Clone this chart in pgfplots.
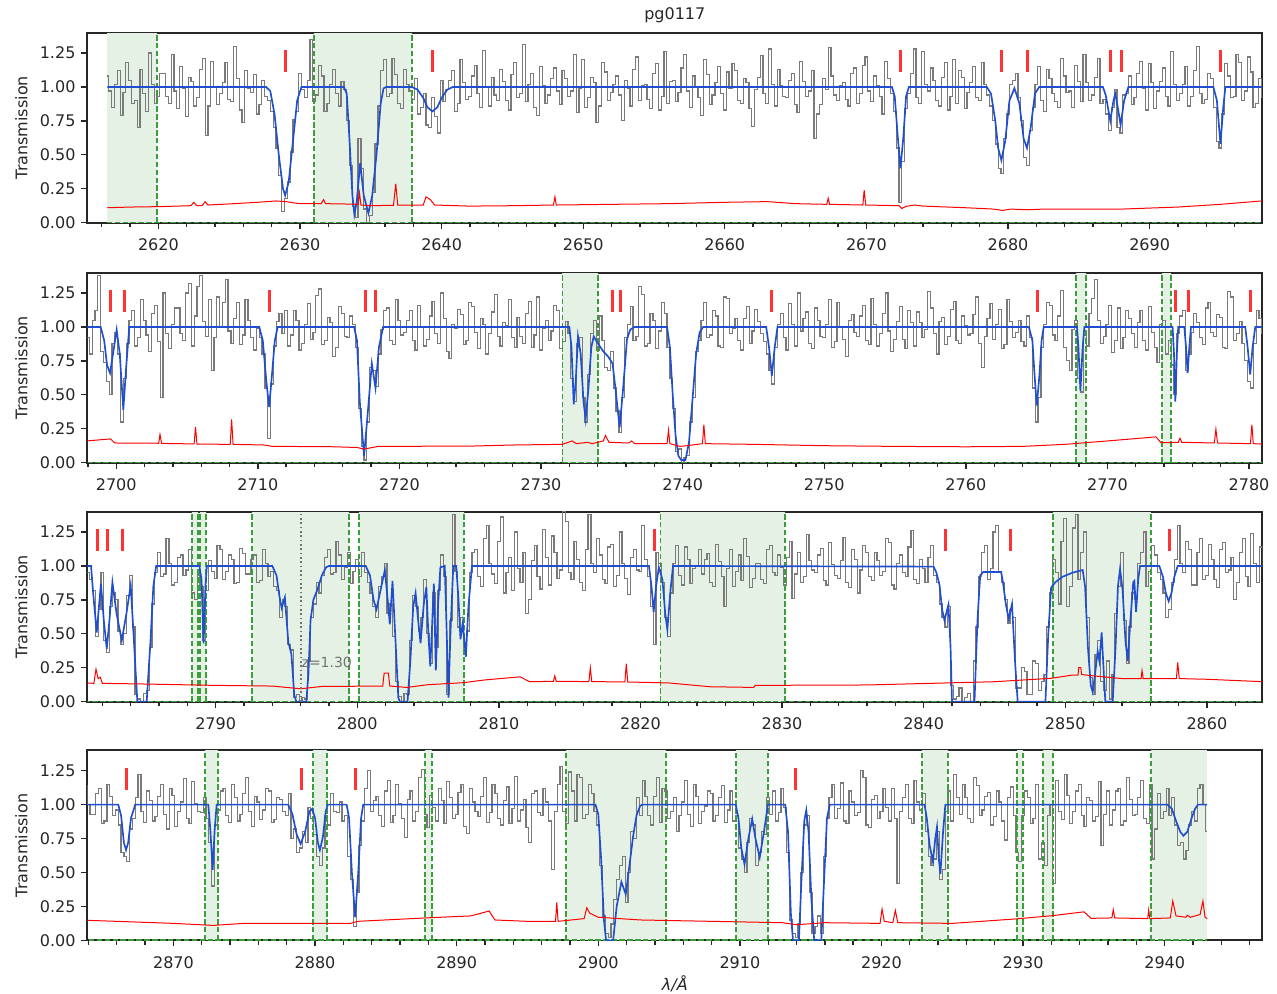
\documentclass[border=0pt]{standalone}
\usepackage{fontspec}
\setmainfont{DejaVu Sans}
\usepackage{pgfplots}
\usepackage{pgfplotstable}
\pgfplotsset{compat=1.18}
\definecolor{shadeg}{rgb}{0.898,0.945,0.898}
\definecolor{gline}{HTML}{3A9E3A}
\definecolor{model}{HTML}{1F4FD0}
\definecolor{spec}{HTML}{7A7A7A}
\definecolor{err}{HTML}{FF0000}
\definecolor{tickred}{HTML}{FF3333}
\definecolor{spine}{HTML}{262626}

\pgfplotstableread[row sep=\\, header=false]{
1.08\\0.97\\0.85\\1.02\\1.12\\0.79\\0.96\\1.18\\1.05\\0.88\\0.90\\0.70\\1.13\\0.95\\0.82\\1.25\\1.02\\0.88\\0.93\\1.10\\
1.10\\0.93\\0.88\\1.24\\0.97\\0.84\\1.15\\0.99\\0.78\\1.07\\1.04\\0.86\\0.92\\1.13\\1.21\\0.64\\0.86\\1.19\\1.00\\0.87\\
0.95\\1.03\\1.18\\0.91\\0.89\\1.30\\1.06\\0.83\\0.74\\1.12\\0.99\\0.96\\1.09\\0.80\\0.87\\1.05\\0.93\\0.90\\0.82\\0.70\\
0.55\\0.35\\0.08\\0.18\\0.30\\0.52\\0.76\\0.82\\1.10\\0.98\\0.92\\1.05\\1.35\\0.89\\0.94\\1.16\\1.08\\0.82\\0.88\\1.02\\
1.13\\0.95\\0.86\\1.04\\0.98\\0.75\\0.42\\0.12\\0.04\\0.62\\0.40\\0.10\\0.00\\0.05\\0.22\\0.58\\0.86\\1.12\\1.20\\0.93\\
0.95\\1.21\\1.09\\0.88\\0.84\\1.13\\1.02\\0.97\\0.91\\1.06\\0.80\\0.85\\0.95\\0.72\\0.70\\0.92\\0.78\\0.66\\1.05\\0.89\\
0.98\\1.05\\1.12\\0.82\\0.88\\1.20\\1.03\\0.91\\0.93\\1.08\\1.16\\0.95\\0.85\\1.27\\1.00\\0.86\\1.07\\0.94\\0.90\\1.13\\
1.04\\0.90\\0.83\\1.09\\1.18\\0.92\\0.95\\1.31\\0.89\\1.02\\1.10\\0.85\\0.79\\1.15\\1.01\\0.88\\0.94\\1.06\\1.14\\0.97\\
0.87\\1.12\\1.06\\0.93\\0.97\\1.24\\0.81\\0.99\\1.20\\0.85\\0.92\\1.07\\1.03\\0.74\\0.86\\1.18\\1.11\\0.90\\0.96\\1.02\\
1.08\\0.94\\0.75\\1.05\\0.99\\0.86\\1.13\\1.22\\0.90\\1.01\\1.02\\0.91\\0.84\\1.10\\1.17\\0.83\\0.93\\1.26\\0.88\\1.04\\
1.05\\0.89\\0.96\\1.14\\1.24\\0.97\\0.85\\1.08\\1.00\\0.92\\0.79\\1.20\\1.09\\0.87\\0.94\\1.03\\1.15\\0.95\\0.83\\1.11\\
0.99\\1.17\\1.12\\0.90\\0.88\\1.06\\1.03\\0.84\\0.71\\0.98\\1.07\\1.23\\0.95\\0.88\\1.28\\1.02\\0.86\\1.13\\1.01\\0.93\\
0.92\\1.05\\1.10\\0.87\\0.81\\1.19\\1.04\\0.93\\0.97\\1.12\\0.62\\0.80\\0.87\\1.06\\0.98\\1.29\\1.08\\0.94\\0.90\\1.01\\
1.03\\0.91\\0.86\\1.10\\1.14\\0.88\\0.95\\1.16\\1.22\\0.97\\0.89\\1.08\\1.01\\0.93\\0.80\\1.19\\1.06\\0.95\\0.82\\0.55\\
0.15\\0.45\\0.84\\0.95\\1.10\\1.28\\0.92\\0.88\\1.26\\1.02\\0.97\\1.14\\1.05\\0.90\\0.86\\1.07\\1.18\\0.83\\0.93\\1.20\\
0.88\\1.12\\1.07\\0.84\\0.96\\1.03\\1.15\\0.92\\0.90\\1.18\\1.02\\0.94\\0.86\\0.75\\0.58\\0.40\\0.36\\0.62\\0.80\\1.02\\
1.05\\1.10\\0.92\\0.75\\0.48\\0.42\\0.68\\0.85\\1.02\\1.15\\0.90\\0.82\\1.13\\1.06\\0.95\\0.89\\0.85\\1.21\\1.08\\0.96\\
0.97\\0.85\\1.16\\1.04\\0.89\\1.24\\1.03\\0.90\\0.94\\1.07\\1.21\\0.88\\0.91\\0.80\\0.68\\0.85\\0.98\\0.70\\0.66\\0.94\\
0.95\\1.08\\0.87\\0.92\\1.10\\1.19\\0.99\\0.83\\1.17\\1.03\\0.84\\0.97\\1.04\\1.14\\0.93\\0.86\\1.26\\1.02\\0.90\\0.95\\
1.02\\1.15\\0.86\\0.93\\1.12\\1.30\\0.95\\0.88\\0.91\\1.10\\1.06\\0.85\\0.60\\0.55\\0.80\\1.17\\1.08\\0.92\\0.93\\1.24\\
1.18\\0.90\\0.97\\1.22\\1.11\\0.85\\0.88\\1.06\\0.92\\0.80\\1.05\\1.12\\1.38\\0.82\\0.74\\0.60\\0.50\\0.88\\0.96\\0.80\\
0.30\\0.62\\0.88\\1.05\\1.12\\0.86\\0.92\\1.20\\1.05\\0.94\\0.82\\1.10\\1.16\\0.89\\0.48\\1.25\\0.95\\0.84\\1.02\\1.14\\
1.14\\0.95\\0.90\\1.25\\1.32\\0.86\\1.08\\1.30\\1.38\\1.04\\0.93\\1.20\\0.68\\0.92\\1.22\\1.00\\1.18\\1.35\\0.97\\0.88\\
1.06\\1.18\\0.87\\0.94\\1.20\\1.05\\0.92\\0.83\\0.99\\0.92\\0.80\\0.55\\0.18\\0.58\\0.86\\1.04\\1.10\\0.95\\1.12\\0.86\\
0.94\\1.12\\1.05\\0.83\\0.88\\1.02\\1.17\\0.91\\0.96\\1.23\\1.28\\0.87\\0.90\\1.07\\1.03\\0.78\\0.85\\1.15\\1.10\\0.93\\
0.92\\1.08\\1.02\\0.85\\0.40\\0.12\\0.02\\0.30\\0.70\\0.68\\0.56\\0.80\\0.98\\1.12\\1.14\\0.90\\0.87\\1.20\\1.05\\0.94\\
0.96\\1.05\\1.12\\0.90\\0.83\\1.16\\1.00\\0.86\\0.91\\1.08\\1.19\\0.95\\0.88\\1.25\\1.06\\0.82\\0.77\\1.02\\0.99\\1.13\\
1.09\\0.87\\0.90\\1.18\\1.15\\0.96\\0.84\\1.06\\1.02\\0.80\\0.95\\1.11\\1.24\\0.93\\0.86\\1.03\\1.01\\1.20\\0.92\\0.85\\
1.07\\0.93\\0.88\\1.10\\1.19\\0.85\\0.94\\1.22\\0.83\\0.99\\1.05\\0.90\\0.97\\1.16\\1.12\\0.84\\0.89\\1.04\\0.95\\0.62\\
0.45\\0.88\\0.92\\0.48\\0.30\\0.65\\0.95\\1.05\\0.83\\1.08\\0.90\\0.70\\0.68\\0.82\\0.55\\0.38\\0.22\\0.48\\0.92\\1.02\\
1.15\\0.90\\0.93\\1.30\\1.24\\0.86\\0.88\\1.10\\1.05\\0.84\\0.97\\1.18\\1.10\\0.85\\0.62\\0.40\\0.08\\0.10\\0.00\\0.04\\
0.05\\0.30\\0.48\\0.82\\0.90\\1.05\\1.18\\0.92\\0.94\\1.12\\1.08\\0.86\\0.85\\1.22\\1.21\\0.95\\0.99\\1.06\\0.90\\0.83\\
1.06\\1.15\\0.88\\0.97\\1.13\\1.04\\0.95\\0.89\\0.80\\0.68\\0.58\\0.85\\1.02\\1.10\\0.92\\0.83\\1.17\\1.02\\0.86\\1.25\\
0.97\\1.06\\1.11\\0.88\\0.84\\1.14\\1.05\\0.93\\0.92\\1.02\\1.20\\0.85\\0.89\\1.18\\1.00\\0.91\\0.78\\1.05\\1.09\\0.96\\
0.93\\1.08\\1.16\\0.90\\0.87\\1.21\\1.02\\0.86\\0.95\\1.10\\1.25\\0.97\\0.82\\0.91\\1.04\\1.15\\0.91\\0.84\\1.12\\1.03\\
0.86\\1.11\\1.03\\0.92\\0.98\\1.26\\1.14\\0.95\\0.80\\1.04\\1.07\\0.87\\0.93\\1.13\\1.19\\0.90\\0.88\\1.08\\1.01\\0.94\\
0.95\\1.09\\1.22\\0.88\\0.70\\0.93\\1.06\\1.17\\0.91\\1.02\\1.13\\0.84\\0.87\\1.20\\1.04\\0.92\\0.96\\1.05\\0.89\\0.86\\
1.08\\0.92\\0.55\\0.30\\0.48\\0.85\\1.02\\1.18\\1.16\\0.94\\0.90\\1.08\\1.27\\0.85\\0.75\\0.68\\0.98\\1.05\\0.62\\0.52\\
0.94\\0.86\\1.10\\1.21\\1.35\\1.05\\0.88\\0.93\\1.02\\1.16\\0.81\\0.90\\1.14\\0.84\\0.92\\1.12\\1.06\\0.95\\0.85\\1.03\\
1.12\\0.90\\0.83\\1.15\\0.96\\0.85\\0.74\\1.02\\1.05\\0.80\\0.90\\0.72\\0.50\\0.95\\1.08\\1.12\\0.68\\0.80\\0.96\\1.10\\
1.03\\0.92\\0.87\\1.14\\1.18\\0.96\\0.93\\1.09\\1.07\\0.85\\0.84\\1.26\\1.22\\0.90\\0.95\\1.04\\0.88\\0.75\\0.60\\0.55\\
0.88\\1.12\\1.06\\0.95\\0.90\\0.82\\0.48\\0.68\\0.95\\0.45\\0.36\\0.70\\0.80\\0.75\\0.52\\0.42\\0.50\\0.78\\0.93\\0.55\\
0.05\\0.02\\0.00\\0.06\\0.08\\0.40\\0.72\\0.95\\1.10\\0.92\\0.94\\1.20\\1.02\\0.86\\0.88\\1.06\\1.08\\0.93\\0.97\\1.12\\
0.80\\0.75\\0.93\\0.85\\0.45\\0.82\\1.04\\0.96\\0.91\\1.15\\1.12\\0.90\\0.96\\1.08\\1.05\\0.87\\0.88\\1.13\\1.09\\0.94\\
0.94\\1.05\\1.08\\0.88\\0.89\\1.12\\1.02\\0.92\\0.96\\0.85\\0.82\\0.62\\0.75\\0.70\\0.42\\0.38\\0.03\\0.05\\0.00\\0.03\\
0.02\\0.30\\0.62\\0.72\\0.88\\0.80\\0.93\\1.06\\1.12\\0.94\\0.95\\1.18\\1.08\\0.90\\0.99\\1.10\\0.87\\0.96\\1.05\\0.92\\
1.10\\0.95\\0.88\\0.80\\0.70\\0.62\\0.85\\0.92\\1.02\\0.65\\0.72\\0.48\\0.15\\0.04\\0.00\\0.06\\0.05\\0.45\\0.78\\0.70\\
0.52\\0.62\\0.90\\0.50\\0.28\\0.80\\0.40\\0.82\\1.08\\0.92\\0.05\\0.60\\1.38\\0.96\\0.55\\0.62\\0.35\\0.52\\0.95\\1.10\\
1.12\\0.92\\0.85\\1.20\\1.30\\1.02\\0.94\\0.87\\1.18\\1.36\\0.80\\0.95\\1.06\\0.82\\1.25\\0.98\\0.88\\1.10\\0.65\\0.75\\
1.04\\1.15\\0.92\\0.83\\1.27\\1.06\\0.86\\1.22\\1.10\\0.91\\0.97\\1.40\\1.33\\0.95\\0.90\\1.18\\1.05\\0.88\\0.82\\1.12\\
1.38\\1.02\\0.95\\1.20\\1.08\\0.90\\0.87\\1.14\\1.16\\0.85\\0.93\\1.25\\1.02\\0.91\\0.79\\1.06\\1.12\\0.97\\0.96\\1.30\\
1.05\\0.92\\0.70\\0.42\\1.10\\1.02\\0.88\\0.62\\0.48\\0.80\\1.02\\1.15\\0.93\\0.86\\1.14\\1.05\\0.87\\0.98\\1.00\\1.12\\
0.94\\1.05\\1.09\\0.88\\0.85\\1.16\\1.03\\0.92\\0.70\\0.98\\1.12\\0.85\\0.96\\1.08\\0.89\\1.20\\1.07\\0.84\\0.91\\1.02\\
1.02\\0.90\\0.87\\1.12\\1.15\\0.95\\0.93\\1.08\\0.99\\0.86\\1.06\\1.18\\0.76\\0.94\\1.10\\0.88\\0.92\\1.23\\1.04\\0.97\\
0.95\\1.08\\1.13\\0.89\\0.86\\1.17\\1.01\\0.93\\0.91\\1.04\\1.21\\0.88\\0.84\\1.12\\1.05\\0.80\\0.97\\1.15\\1.10\\0.92\\
0.89\\1.10\\1.04\\0.93\\0.96\\1.20\\1.17\\0.86\\0.83\\1.02\\1.08\\0.95\\0.92\\1.14\\1.26\\0.90\\0.87\\1.05\\0.98\\0.88\\
1.06\\1.15\\0.93\\0.88\\0.72\\0.62\\0.55\\0.70\\0.12\\0.02\\0.04\\0.10\\0.00\\0.03\\0.06\\0.00\\0.30\\0.55\\0.92\\1.10\\
1.15\\0.90\\0.98\\1.25\\1.30\\0.95\\0.88\\0.75\\0.58\\0.68\\0.62\\0.10\\0.10\\0.25\\0.22\\0.05\\0.05\\0.30\\0.28\\0.08\\
0.15\\0.20\\0.55\\0.80\\1.05\\0.95\\0.72\\1.18\\1.35\\0.70\\0.85\\1.28\\1.38\\0.90\\1.10\\1.25\\0.62\\0.18\\0.05\\0.35\\
0.45\\0.15\\0.08\\0.30\\0.02\\0.20\\0.65\\0.85\\1.10\\0.60\\0.28\\0.55\\0.80\\0.75\\1.02\\1.10\\1.25\\0.85\\0.96\\1.15\\
1.08\\0.95\\0.90\\0.80\\0.62\\0.68\\0.88\\1.05\\1.30\\1.02\\0.95\\1.18\\1.12\\0.86\\0.86\\1.10\\1.20\\0.90\\0.93\\1.16\\
1.05\\0.90\\0.84\\1.12\\1.17\\0.95\\0.97\\1.06\\0.75\\0.88\\1.10\\1.20\\0.92\\0.85\\1.24\\1.02\\0.88\\1.14\\1.00\\0.93\\
0.93\\1.08\\1.12\\0.86\\0.88\\1.15\\1.06\\0.92\\0.96\\0.85\\0.65\\0.62\\0.58\\0.82\\0.90\\1.05\\1.22\\0.95\\0.87\\1.10\\
1.03\\0.88\\0.91\\1.06\\1.15\\0.93\\0.82\\1.12\\1.07\\0.84\\0.95\\1.02\\1.19\\0.90\\0.86\\1.17\\1.01\\0.95\\0.94\\1.05\\
0.90\\0.72\\0.40\\0.85\\0.96\\1.10\\1.12\\0.92\\0.87\\1.15\\1.05\\0.88\\0.93\\1.08\\1.20\\0.95\\0.84\\1.06\\1.02\\0.89\\
0.96\\1.12\\1.10\\0.87\\0.89\\1.05\\1.04\\0.95\\0.92\\1.08\\0.75\\0.82\\0.65\\0.68\\0.80\\0.72\\0.98\\0.90\\0.78\\0.62\\
0.55\\0.68\\0.92\\0.85\\1.08\\0.95\\0.94\\1.02\\0.88\\0.92\\0.62\\0.45\\0.10\\0.35\\0.70\\0.88\\1.12\\1.25\\0.95\\1.03\\
1.06\\0.92\\0.84\\1.10\\1.18\\0.87\\0.92\\1.15\\1.01\\0.90\\0.76\\1.04\\1.10\\0.88\\0.95\\1.20\\1.26\\0.93\\0.83\\1.07\\
0.98\\0.88\\1.12\\1.03\\0.86\\1.17\\1.05\\0.90\\0.93\\1.09\\1.15\\0.84\\0.79\\1.12\\1.02\\0.95\\0.91\\1.06\\1.20\\0.87\\
0.94\\1.15\\1.08\\0.90\\0.85\\1.03\\1.13\\0.86\\0.97\\1.21\\0.88\\0.96\\1.04\\0.83\\0.72\\1.08\\1.10\\0.94\\0.92\\1.12\\
1.02\\0.88\\0.52\\0.95\\1.15\\1.28\\0.95\\0.86\\1.24\\1.10\\0.88\\1.22\\1.20\\0.90\\0.93\\1.15\\1.08\\0.95\\0.85\\0.55\\
0.18\\0.05\\0.02\\0.12\\0.30\\0.45\\0.55\\0.62\\0.28\\0.50\\0.80\\0.75\\1.05\\0.92\\1.18\\1.06\\0.92\\0.85\\1.06\\1.20\\
0.87\\1.12\\1.10\\0.90\\0.95\\1.05\\0.80\\0.92\\1.02\\1.18\\0.93\\0.84\\1.15\\1.06\\0.86\\0.95\\0.99\\1.10\\1.08\\0.88\\
0.92\\1.05\\1.14\\0.87\\0.96\\1.10\\0.88\\0.92\\0.68\\0.60\\0.50\\0.72\\0.90\\0.85\\0.55\\0.65\\0.80\\0.78\\1.05\\0.93\\
1.10\\0.88\\0.94\\1.12\\0.98\\0.65\\0.15\\0.05\\0.02\\0.12\\0.50\\0.85\\0.92\\0.35\\0.05\\0.10\\0.18\\0.05\\0.62\\0.90\\
1.05\\1.15\\0.90\\0.97\\1.16\\0.88\\0.86\\1.10\\1.02\\0.92\\0.94\\1.25\\1.20\\0.85\\0.83\\1.04\\1.07\\0.90\\0.95\\1.12\\
0.98\\0.88\\1.12\\0.90\\0.42\\0.95\\1.05\\1.15\\0.90\\0.86\\1.18\\1.02\\0.96\\1.08\\0.80\\0.62\\0.55\\0.60\\0.80\\0.45\\
0.52\\0.95\\1.10\\0.88\\1.22\\1.05\\0.93\\1.15\\1.05\\0.90\\0.87\\1.20\\1.14\\0.92\\0.96\\1.06\\1.09\\0.85\\0.91\\1.10\\
1.02\\0.88\\0.74\\1.05\\1.13\\0.92\\0.65\\0.58\\0.92\\1.10\\1.05\\0.86\\0.90\\1.15\\0.60\\0.72\\0.55\\0.92\\1.00\\0.42\\
1.18\\0.95\\0.89\\1.22\\1.07\\0.86\\0.95\\1.10\\1.15\\0.92\\0.84\\1.05\\1.03\\0.88\\0.91\\1.17\\0.70\\0.93\\1.10\\0.85\\
0.96\\1.10\\1.12\\0.85\\0.88\\1.20\\1.04\\0.92\\0.93\\1.05\\1.18\\0.90\\0.86\\1.15\\0.60\\0.82\\1.08\\0.90\\0.95\\1.12\\
0.92\\1.05\\0.85\\0.70\\0.72\\0.60\\0.66\\0.85\\0.95\\0.88\\1.12\\1.15\\1.00\\0.80\\
}\spectab

\newcommand{\shadereg}[2]{\addplot[draw=none, fill=shadeg, forget plot] coordinates {(#1,0) (#1,1.4) (#2,1.4) (#2,0)};}
\newcommand{\gvl}[1]{\addplot[gline, line width=1.1pt, dash pattern=on 3.3pt off 1.45pt, forget plot] coordinates {(#1,0) (#1,1.4)};}

\newcommand{\allplots}{%
\shadereg{2616.35}{2619.9}
\shadereg{2631.0}{2637.9}
\shadereg{2731.51}{2734.05}
\shadereg{2767.78}{2768.49}
\shadereg{2773.83}{2774.49}
\shadereg{2788.33}{2788.78}
\shadereg{2788.88}{2789.33}
\shadereg{2792.54}{2799.43}
\shadereg{2800.13}{2807.53}
\shadereg{2821.41}{2830.18}
\shadereg{2849.16}{2856.06}
\shadereg{2872.25}{2873.17}
\shadereg{2879.87}{2880.82}
\shadereg{2887.75}{2888.23}
\shadereg{2897.70}{2904.81}
\shadereg{2909.70}{2911.98}
\shadereg{2922.88}{2924.68}
\shadereg{2929.55}{2929.98}
\shadereg{2931.39}{2932.09}
\shadereg{2939.04}{2942.96}
\addplot[spec, line width=0.72pt, const plot mark mid, forget plot] table[x expr=2616.4+0.2*\coordindex, y index=0] {\spectab};
\gvl{2619.9}\gvl{2631.0}\gvl{2637.9}\gvl{2731.51}\gvl{2734.05}\gvl{2767.78}\gvl{2768.49}
\gvl{2773.83}\gvl{2774.49}\gvl{2788.33}\gvl{2788.78}\gvl{2788.88}\gvl{2789.33}\gvl{2792.54}
\gvl{2799.43}\gvl{2800.13}\gvl{2807.53}\gvl{2821.41}\gvl{2830.18}\gvl{2849.16}\gvl{2856.06}
\gvl{2872.25}\gvl{2873.17}\gvl{2879.87}\gvl{2880.82}\gvl{2887.75}\gvl{2888.23}\gvl{2897.70}
\gvl{2904.81}\gvl{2909.70}\gvl{2911.98}\gvl{2922.88}\gvl{2924.68}\gvl{2929.55}\gvl{2929.98}
\gvl{2931.39}\gvl{2932.09}\gvl{2939.04}
\addplot[gline, line width=1.1pt, dash pattern=on 3.3pt off 1.45pt, forget plot] coordinates {(2616.35,0) (2943,0)};
\addplot[model, line width=1pt, forget plot] coordinates {
(2616.4,1)
(2627.6,1)(2627.9,0.97)(2628.2,0.8)(2628.5,0.5)(2628.8,0.25)(2628.95,0.2)(2629.2,0.3)(2629.5,0.6)(2629.8,0.9)(2630.1,1)
(2633.1,1)(2633.3,0.95)(2633.5,0.6)(2633.7,0.2)(2633.84,0.06)(2634.0,0.15)(2634.25,0.44)(2634.5,0.2)(2634.83,0.07)(2635.1,0.2)(2635.4,0.5)(2635.7,0.88)(2635.9,0.99)(2636.1,1)
(2637.9,1)(2638.3,0.98)(2638.7,0.92)(2639.0,0.85)(2639.35,0.82)(2639.7,0.85)(2640.0,0.92)(2640.4,0.98)(2640.8,1)
(2671.8,1)(2672.0,0.93)(2672.2,0.65)(2672.4,0.40)(2672.6,0.62)(2672.8,0.93)(2673.0,1)
(2678.5,1)(2678.8,0.95)(2679.1,0.75)(2679.3,0.55)(2679.53,0.46)(2679.8,0.6)(2680.1,0.9)(2680.45,0.99)(2680.8,0.88)(2681.1,0.62)(2681.34,0.55)(2681.6,0.7)(2681.9,0.95)(2682.2,1)
(2686.7,1)(2686.9,0.94)(2687.22,0.75)(2687.45,0.9)(2687.57,0.95)(2687.75,0.85)(2687.95,0.72)(2688.2,0.9)(2688.5,1)
(2694.5,1)(2694.75,0.9)(2695.0,0.58)(2695.2,0.85)(2695.35,1)
(2698.9,1)(2699.15,0.9)(2699.35,0.72)(2699.56,0.66)(2699.8,0.82)(2700.03,0.98)(2700.25,0.8)(2700.5,0.39)(2700.7,0.7)(2700.92,1)
(2710.1,1)(2710.35,0.9)(2710.6,0.6)(2710.8,0.41)(2711.0,0.65)(2711.2,0.9)(2711.4,1)
(2716.8,1)(2717.0,0.9)(2717.2,0.45)(2717.5,0.05)(2717.75,0.35)(2718.05,0.73)(2718.31,0.55)(2718.55,0.85)(2718.85,1)
(2732.0,1)(2732.15,0.85)(2732.31,0.43)(2732.45,0.6)(2732.61,0.93)(2732.8,0.8)(2733.0,0.45)(2733.15,0.32)(2733.35,0.55)(2733.55,0.85)(2733.72,0.93)(2734.0,0.88)(2734.4,0.82)(2734.75,0.78)(2735.05,0.73)(2735.25,0.55)(2735.55,0.26)(2735.8,0.55)(2736.07,0.91)(2736.3,0.98)(2736.6,1)
(2738.9,1)(2739.1,0.85)(2739.3,0.5)(2739.5,0.2)(2739.7,0.05)(2739.9,0.02)(2740.2,0.02)(2740.45,0.15)(2740.7,0.47)(2740.95,0.8)(2741.2,0.96)(2741.45,1)
(2745.9,1)(2746.1,0.85)(2746.3,0.64)(2746.5,0.85)(2746.7,1)
(2764.45,1)(2764.7,0.9)(2764.85,0.65)(2765.01,0.42)(2765.2,0.65)(2765.35,0.9)(2765.5,1)
(2767.85,1)(2767.95,0.85)(2768.09,0.53)(2768.25,0.85)(2768.37,1)
(2774.6,1)(2774.7,0.8)(2774.79,0.45)(2774.9,0.8)(2775.0,1)
(2775.43,1)(2775.55,0.85)(2775.66,0.66)(2775.78,0.85)(2775.9,1)
(2779.73,1)(2779.9,0.85)(2780.08,0.65)(2780.25,0.85)(2780.44,1)
(2781.2,1)(2781.35,0.8)(2781.6,0.51)(2781.9,0.87)(2782.1,0.6)(2782.31,0.39)(2782.5,0.6)(2782.71,0.88)(2783.0,0.65)(2783.37,0.45)(2783.7,0.65)(2784.0,0.86)(2784.2,0.5)(2784.47,0)(2785.13,0)(2785.4,0.45)(2785.6,0.85)(2785.8,1)
(2788.85,1)(2789.0,0.9)(2789.15,0.43)(2789.28,0.85)(2789.38,1)
(2794.0,1)(2794.3,0.93)(2794.5,0.78)(2794.66,0.69)(2794.89,0.77)(2795.13,0.44)(2795.35,0.35)(2795.55,0.05)(2795.7,0)(2796.4,0)(2796.55,0.2)(2796.7,0.6)(2796.9,0.75)(2797.2,0.83)(2797.5,0.93)(2797.8,0.99)(2798.0,1)
(2800.6,1)(2800.9,0.93)(2801.15,0.75)(2801.36,0.68)(2801.6,0.8)(2801.95,0.97)(2802.15,0.75)(2802.3,0.57)(2802.49,0.89)(2802.7,0.45)(2802.9,0.03)(2803.0,0)(2803.55,0)(2803.75,0.3)(2803.95,0.7)(2804.12,0.80)(2804.3,0.6)(2804.47,0.43)(2804.7,0.72)(2804.88,0.845)(2805.02,0.5)(2805.16,0.26)(2805.3,0.6)(2805.41,0.87)(2805.48,0.55)(2805.55,0.23)(2805.7,0.7)(2805.87,0.99)(2806.18,1)(2806.32,0.5)(2806.44,0.03)(2806.58,0.5)(2806.78,1)(2806.99,1)(2807.15,0.75)(2807.29,0.46)(2807.45,0.58)(2807.67,0.33)(2807.85,0.7)(2808.1,1)
(2820.6,1)(2820.78,0.85)(2820.93,0.66)(2821.1,0.85)(2821.3,0.99)(2821.55,0.9)(2821.75,0.65)(2821.9,0.53)(2822.1,0.8)(2822.3,1)
(2840.7,0.995)(2840.9,0.95)(2841.12,0.86)(2841.3,0.68)(2841.47,0.60)(2841.75,0.715)(2841.9,0.4)(2842.0,0)(2843.59,0)(2843.8,0.6)(2843.99,0.93)(2844.2,0.955)(2845.47,0.955)(2845.6,0.88)(2845.8,0.72)(2846.0,0.61)(2846.24,0.72)(2846.45,0.3)(2846.64,0)(2848.6,0)(2848.8,0.5)(2849.0,0.84)(2849.3,0.88)(2849.8,0.92)(2850.5,0.95)(2851.23,0.97)(2851.4,0.85)(2851.6,0.4)(2851.8,0.12)(2851.94,0.07)(2852.1,0.2)(2852.29,0.37)(2852.41,0.3)(2852.57,0.51)(2852.7,0.25)(2852.83,0)(2853.35,0)(2853.55,0.4)(2853.72,0.85)(2853.87,0.98)(2854.05,0.82)(2854.25,0.45)(2854.41,0.30)(2854.6,0.6)(2854.8,0.88)(2854.88,0.89)(2855.0,0.66)(2855.15,0.9)(2855.28,1)
(2856.64,1)(2856.9,0.92)(2857.1,0.8)(2857.3,0.74)(2857.5,0.8)(2857.7,0.92)(2857.94,1)
(2866.1,1)(2866.3,0.92)(2866.5,0.72)(2866.65,0.665)(2866.8,0.72)(2867.0,0.9)(2867.3,1)
(2872.46,1)(2872.6,0.82)(2872.77,0.52)(2872.9,0.8)(2873.05,1)
(2878.1,1)(2878.4,0.93)(2878.7,0.78)(2878.98,0.71)(2879.3,0.8)(2879.6,0.95)(2879.8,0.97)(2880.0,0.9)(2880.2,0.72)(2880.34,0.665)(2880.55,0.76)(2880.75,0.95)(2880.9,1)
(2882.23,1)(2882.4,0.9)(2882.6,0.5)(2882.83,0.17)(2883.05,0.5)(2883.25,0.9)(2883.4,1)
(2899.8,1)(2900.0,0.93)(2900.2,0.6)(2900.4,0.15)(2900.55,0)(2901.05,0)(2901.3,0.25)(2901.63,0.43)(2901.94,0.34)(2902.2,0.55)(2902.45,0.76)(2902.7,0.92)(2902.95,0.99)(2903.1,1)
(2909.7,1)(2909.9,0.9)(2910.1,0.68)(2910.33,0.56)(2910.6,0.75)(2910.87,0.895)(2911.1,0.75)(2911.4,0.61)(2911.7,0.8)(2911.98,1)
(2913.2,1)(2913.4,0.8)(2913.6,0.2)(2913.75,0)(2914.17,0)(2914.35,0.45)(2914.55,0.88)(2914.69,0.96)(2914.85,0.8)(2915.05,0.3)(2915.25,0)(2915.75,0)(2915.95,0.45)(2916.15,0.9)(2916.35,1)
(2923.04,1)(2923.2,0.9)(2923.4,0.7)(2923.63,0.58)(2923.8,0.75)(2923.92,0.836)(2924.05,0.6)(2924.16,0.49)(2924.35,0.8)(2924.51,1)
(2940.2,1)(2940.5,0.97)(2940.8,0.88)(2941.1,0.8)(2941.32,0.77)(2941.6,0.8)(2941.9,0.9)(2942.15,0.97)(2942.35,1)(2943.0,1)
};
\addplot[err, line width=0.6pt, forget plot] coordinates {
(2616.4,0.11)(2618,0.115)(2620,0.118)(2622.3,0.125)(2622.5,0.15)(2622.7,0.125)(2623.1,0.127)(2623.3,0.155)(2623.5,0.13)(2625,0.138)(2627,0.15)(2628.3,0.16)(2629,0.155)(2629.6,0.145)(2630,0.14)(2631.5,0.14)(2631.66,0.17)(2631.8,0.14)(2633,0.138)(2634.1,0.135)(2634.2,0.22)(2634.3,0.13)(2635,0.125)(2636.6,0.128)(2636.76,0.286)(2636.9,0.13)(2638.7,0.13)(2638.9,0.19)(2639.2,0.17)(2639.5,0.13)(2642,0.122)(2645,0.125)(2647.9,0.13)(2648.0,0.19)(2648.1,0.13)(2652,0.135)(2656,0.14)(2660,0.15)(2663,0.155)(2665,0.14)(2667.2,0.135)(2667.3,0.18)(2667.4,0.135)(2669.75,0.13)(2669.84,0.24)(2669.95,0.13)(2672.3,0.125)(2672.5,0.105)(2672.8,0.12)(2673.4,0.13)(2674,0.122)(2677,0.11)(2679,0.1)(2679.6,0.09)(2680.2,0.1)(2681.4,0.095)(2682.5,0.1)(2688,0.1)(2692,0.115)(2695,0.135)(2697.9,0.16)(2699.6,0.175)(2699.9,0.145)(2703.0,0.143)(2703.09,0.208)(2703.2,0.142)(2705.5,0.138)(2705.6,0.264)(2705.7,0.137)(2708.05,0.135)(2708.15,0.318)(2708.25,0.135)(2710.5,0.13)(2711,0.12)(2715,0.118)(2717,0.112)(2717.5,0.1)(2718,0.11)(2718.5,0.12)(2725,0.122)(2728,0.13)(2731.5,0.135)(2732.2,0.16)(2732.5,0.14)(2733.3,0.15)(2733.6,0.14)(2734.4,0.16)(2734.55,0.2)(2734.8,0.15)(2736.2,0.145)(2736.4,0.16)(2736.6,0.14)(2738.9,0.14)(2739.0,0.24)(2739.1,0.14)(2739.8,0.12)(2740.3,0.125)(2741.4,0.14)(2741.5,0.28)(2741.6,0.14)(2745,0.135)(2750,0.125)(2755,0.12)(2760,0.117)(2764,0.12)(2767,0.135)(2770,0.16)(2773.43,0.19)(2773.78,0.147)(2775.0,0.15)(2775.12,0.18)(2775.25,0.15)(2777.55,0.145)(2777.66,0.247)(2777.77,0.145)(2780.1,0.14)(2780.2,0.28)(2780.3,0.14)(2781.4,0.135)(2781.55,0.24)(2781.7,0.17)(2781.85,0.18)(2782.0,0.135)(2785,0.13)(2790,0.12)(2794,0.115)(2796,0.095)(2797.5,0.112)(2801.8,0.115)(2801.9,0.21)(2802.2,0.21)(2802.3,0.115)(2803.5,0.105)(2805,0.125)(2807.5,0.14)(2809,0.16)(2811.5,0.183)(2812.18,0.147)(2813.85,0.15)(2813.95,0.19)(2814.05,0.15)(2816.36,0.148)(2816.46,0.25)(2816.56,0.148)(2818.9,0.145)(2819.0,0.28)(2819.1,0.145)(2822,0.138)(2824.9,0.11)(2828.0,0.105)(2828.1,0.12)(2836,0.123)(2845,0.147)(2849,0.172)(2850.5,0.196)(2850.9,0.196)(2850.95,0.25)(2851.1,0.25)(2851.15,0.2)(2852,0.19)(2854,0.17)(2855.35,0.17)(2855.42,0.23)(2855.5,0.17)(2857.85,0.17)(2857.94,0.29)(2858.05,0.17)(2860,0.165)(2864,0.147)(2866,0.14)(2870,0.125)(2872.8,0.11)(2875,0.125)(2882.5,0.125)(2883,0.14)(2888,0.166)(2891,0.18)(2892.29,0.216)(2892.7,0.15)(2895,0.14)(2896.98,0.14)(2897.07,0.28)(2897.16,0.14)(2899.0,0.16)(2899.19,0.24)(2899.4,0.2)(2900,0.17)(2903,0.15)(2908,0.14)(2913,0.13)(2914,0.115)(2916,0.13)(2919.9,0.125)(2920.04,0.23)(2920.2,0.14)(2920.8,0.13)(2920.98,0.22)(2921.15,0.13)(2925,0.125)(2929.4,0.157)(2932,0.181)(2934.3,0.21)(2934.8,0.162)(2936.27,0.165)(2936.37,0.225)(2936.47,0.165)(2938.8,0.16)(2938.87,0.225)(2938.95,0.16)(2940.4,0.165)(2940.57,0.29)(2940.8,0.18)(2941.5,0.17)(2941.6,0.185)(2941.8,0.17)(2942.5,0.19)(2942.7,0.29)(2942.85,0.17)(2943.0,0.16)
};
\addplot[only marks, mark=|, mark size=6.5pt, tickred, mark options={line width=1.8pt}, forget plot] coordinates {
(2629.0,1.19)(2639.35,1.19)(2672.42,1.19)(2679.57,1.19)(2681.38,1.19)(2687.25,1.19)(2688.0,1.19)(2695.03,1.19)
(2699.61,1.19)(2700.55,1.19)(2710.8,1.19)(2717.58,1.19)(2718.31,1.19)(2735.04,1.19)(2735.6,1.19)(2746.28,1.19)(2765.03,1.19)(2774.84,1.19)(2775.71,1.19)(2780.13,1.19)
(2781.65,1.19)(2782.35,1.19)(2783.44,1.19)(2820.96,1.19)(2841.52,1.19)(2846.1,1.19)(2857.35,1.19)
(2866.7,1.19)(2879.05,1.19)(2882.88,1.19)(2913.94,1.19)
};
}

\pgfplotsset{
 panel/.style={
  scale only axis, width=705pt, height=114pt,
  ymin=0, ymax=1.4,
  ytick={0,0.25,0.5,0.75,1,1.25},
  yticklabel style={/pgf/number format/.cd, fixed, fixed zerofill, precision=2},
  xticklabel style={yshift=-2.6pt},
  xtick={2600,2610,...,2950},
  minor xtick={2600,2602,...,2950},
  axis line style={spine, line width=1.1pt},
  every tick/.style={spine, line width=0.8pt},
  major tick length=3.6pt, minor tick length=2.6pt,
  tick align=outside,
  xtick pos=bottom, ytick pos=left,
  ticklabel style={font=\fontsize{9.6}{11}\selectfont, text=spine},
  /pgf/number format/assume math mode=true,
  /pgf/number format/1000 sep={},
  label style={font=\fontsize{9.6}{11}\selectfont, text=spine},
  ylabel={Transmission},
  ylabel style={at={(axis description cs:-0.0562,0.5)}, anchor=center},
 }
}

\begin{document}
\begin{tikzpicture}
\path[use as bounding box] (-52.4pt,-462.8pt) rectangle (713.8pt,133.6pt);
\begin{axis}[panel, at={(0pt,0pt)}, xmin=2614.98, xmax=2697.96,
  title={pg0117}, title style={at={(axis description cs:0.5,1)}, anchor=center, yshift=4.4pt, font=\fontsize{9.6}{11}\selectfont, text=spine}]
\allplots
\end{axis}
\begin{axis}[panel, at={(0pt,-144pt)}, xmin=2697.96, xmax=2780.94]
\allplots
\end{axis}
\begin{axis}[panel, at={(0pt,-287.4pt)}, xmin=2780.94, xmax=2863.92]
\allplots
\addplot[color=black!55, line width=1.2pt, dash pattern=on 1pt off 1.6pt, forget plot] coordinates {(2796.0,0) (2796.0,1.4)};
\node[anchor=west, text=black!55, font=\fontsize{8.4}{10}\selectfont, inner sep=0pt] at (axis cs:2796.05,0.288) {z=1.30};
\end{axis}
\begin{axis}[panel, at={(0pt,-430.6pt)}, xmin=2863.92, xmax=2946.90,
  xlabel={\itshape λ/Å}, xlabel style={at={(axis description cs:0.5,0)}, anchor=center, inner sep=0pt, yshift=-26.2pt}]
\allplots
\end{axis}
\end{tikzpicture}
\end{document}
